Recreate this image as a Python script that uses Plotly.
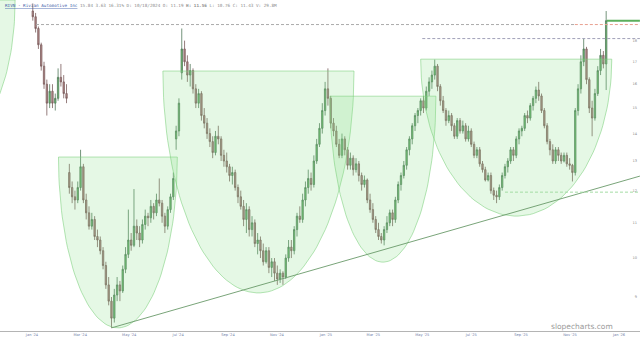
import numpy as np
import pandas as pd
import plotly.graph_objects as go

# ---------------- data ----------------
START = "2024-01-02"
OPEN = [
19.5, 19.2, 18.6, 17.8, 16.8, 16.0, 15.2, 15.7, 15.2, 15.4,
16.3, 16.1, 15.6, 12.6, 12.1, 11.8, 11.7, 12.1, 12.8, 11.7,
11.3, 10.9, 11.1, 10.6, 10.5, 10.2, 9.8, 9.3, 8.9, 8.5,
9.05, 9.3, 9.15, 9.7, 10.1, 10.5, 10.35, 10.9, 10.7, 10.5,
10.95, 11.2, 11.15, 11.5, 11.3, 11.7, 11.6, 11.2, 10.9, 11.4,
11.8, 13.8, 14.1, 16.5, 17.6, 17.0, 16.4, 16.6, 15.8, 15.2,
15.6, 14.7, 14.4, 14.0, 13.7, 13.3, 13.9, 13.8, 13.2, 13.0,
12.8, 12.5, 12.6, 12.1, 11.8, 11.5, 11.1, 11.4, 10.8, 11.0,
10.4, 10.5, 10.2, 9.9, 10.2, 9.75, 9.9, 9.6, 9.45, 9.6,
9.5, 10.0, 10.3, 10.2, 10.8, 11.2, 11.1, 11.7, 12.1, 12.4,
12.2, 13.0, 13.6, 14.2, 14.9, 15.8, 15.4, 14.4, 14.1, 13.6,
13.2, 13.8, 13.4, 12.85, 13.1, 12.7, 12.9, 12.5, 12.2, 12.35,
11.7, 11.4, 11.1, 10.8, 10.6, 10.5, 10.8, 11.0, 11.3, 11.1,
11.7, 12.2, 12.5, 12.85, 13.4, 13.8, 14.3, 14.7, 14.9, 15.3,
15.0, 15.7, 16.1, 16.4, 16.8, 15.9, 15.3, 14.9, 14.5, 14.7,
14.3, 13.9, 14.5, 14.1, 14.3, 13.8, 14.1, 13.6, 13.2, 13.4,
12.9, 12.7, 12.35, 12.5, 12.0, 11.85, 11.8, 12.1, 12.5, 12.8,
13.0, 13.4, 13.2, 13.8, 14.1, 14.2, 14.7, 14.6, 15.1, 15.4,
15.75, 15.5, 14.9, 14.3, 13.7, 13.4, 13.0, 13.4, 13.2, 13.0,
13.2, 12.9, 12.85, 12.6, 14.9, 15.8, 17.0, 17.6, 16.2, 15.0,
14.6, 15.6, 16.6, 17.3, 16.9]
HIGH = [
19.9, 19.4, 18.7, 17.9, 17.0, 16.2, 16.0, 16.0, 15.6, 16.7,
16.9, 16.4, 16.0, 12.9, 12.3, 12.0, 12.3, 13.4, 12.9, 11.9,
11.5, 11.3, 11.2, 10.8, 10.6, 10.3, 9.9, 9.5, 9.0, 9.2,
9.5, 9.4, 9.8, 10.3, 11.4, 10.7, 12.05, 11.1, 10.9, 11.1,
11.4, 11.3, 11.7, 11.6, 11.9, 12.4, 11.7, 11.3, 11.5, 11.9,
12.6, 14.3, 15.4, 18.6, 18.0, 17.3, 16.9, 16.7, 16.0, 15.8,
15.7, 15.0, 14.6, 14.2, 13.9, 14.1, 14.3, 13.9, 13.4, 13.3,
12.9, 12.8, 12.7, 12.2, 12.0, 11.7, 11.6, 11.5, 11.2, 11.1,
10.7, 10.6, 10.4, 10.3, 10.3, 10.0, 10.0, 9.8, 9.7, 9.65,
10.1, 10.5, 10.5, 10.9, 11.3, 11.5, 11.9, 12.3, 12.7, 12.6,
13.2, 13.8, 14.4, 15.2, 16.1, 16.7, 15.5, 14.6, 14.3, 13.8,
14.0, 13.9, 13.5, 13.3, 13.2, 13.1, 13.0, 12.6, 12.5, 12.4,
11.9, 11.6, 11.2, 11.0, 10.7, 10.9, 11.2, 11.4, 11.4, 11.8,
12.3, 12.6, 13.0, 13.5, 13.9, 14.4, 14.8, 15.0, 15.4, 15.5,
15.9, 16.3, 16.6, 17.1, 16.9, 16.0, 15.5, 15.0, 14.9, 14.8,
14.4, 14.6, 14.6, 14.5, 14.4, 14.3, 14.2, 13.7, 13.5, 13.5,
13.0, 12.8, 12.6, 12.6, 12.1, 12.0, 12.2, 12.6, 12.9, 13.1,
13.5, 13.5, 13.9, 14.2, 14.3, 14.8, 14.9, 15.2, 15.5, 15.9,
16.1, 15.6, 15.0, 14.4, 13.8, 13.6, 13.5, 13.5, 13.3, 13.3,
13.3, 13.1, 12.9, 15.0, 16.0, 17.3, 18.1, 17.7, 16.3, 15.3,
15.8, 16.8, 17.6, 17.5, 19.5]
LOW = [
19.0, 18.4, 17.6, 16.6, 15.8, 14.7, 15.0, 15.0, 14.9, 15.3,
15.9, 15.4, 15.2, 11.9, 11.6, 11.4, 11.6, 12.0, 11.6, 11.1,
10.8, 10.8, 10.5, 10.3, 10.1, 9.7, 9.2, 8.8, 8.28, 8.4,
8.9, 8.9, 9.1, 9.6, 10.0, 10.2, 10.3, 10.5, 10.3, 10.4,
10.8, 10.9, 11.0, 11.1, 11.2, 11.5, 11.0, 10.7, 10.8, 11.3,
11.7, 13.4, 13.9, 16.2, 16.8, 16.1, 15.9, 15.6, 15.0, 15.0,
14.5, 14.2, 13.8, 13.5, 13.1, 13.2, 13.6, 13.0, 12.8, 12.6,
12.3, 12.2, 12.0, 11.6, 11.4, 10.9, 10.7, 10.6, 10.6, 10.3,
10.1, 10.0, 9.8, 9.85, 9.6, 9.5, 9.4, 9.3, 9.35, 9.3,
9.45, 9.9, 10.0, 10.1, 10.6, 11.0, 11.0, 11.5, 11.9, 12.0,
12.1, 12.9, 13.5, 14.0, 14.7, 15.1, 14.2, 13.9, 13.5, 13.1,
13.1, 13.2, 12.7, 12.7, 12.5, 12.6, 12.3, 12.0, 12.1, 11.6,
11.3, 11.0, 10.7, 10.5, 10.4, 10.35, 10.7, 10.9, 10.9, 11.0,
11.6, 12.0, 12.4, 12.7, 13.2, 13.6, 14.1, 14.4, 14.7, 14.8,
14.9, 15.5, 15.8, 16.2, 15.7, 15.1, 14.8, 14.3, 14.4, 14.1,
13.8, 13.8, 14.0, 14.0, 13.7, 13.7, 13.5, 13.1, 13.1, 12.8,
12.6, 12.3, 12.3, 11.9, 11.7, 11.6, 11.7, 12.0, 12.4, 12.6,
12.9, 13.0, 13.1, 13.6, 13.9, 14.1, 14.4, 14.5, 14.9, 15.2,
15.3, 14.8, 14.2, 13.6, 13.2, 12.9, 12.9, 13.0, 12.9, 12.95,
12.8, 12.7, 12.3, 12.5, 14.7, 15.6, 16.8, 16.0, 14.8, 13.9,
14.5, 15.5, 16.4, 16.7, 15.75]
CLOSE = [
19.2, 18.6, 17.8, 16.8, 16.0, 15.2, 15.7, 15.2, 15.4, 16.3,
16.1, 15.6, 15.4, 12.1, 11.8, 11.7, 12.1, 12.8, 11.7, 11.3,
10.9, 11.1, 10.6, 10.5, 10.2, 9.8, 9.3, 8.9, 8.5, 9.05,
9.3, 9.15, 9.7, 10.1, 10.5, 10.35, 10.9, 10.7, 10.5, 10.95,
11.2, 11.15, 11.5, 11.3, 11.7, 11.6, 11.2, 10.9, 11.4, 11.8,
12.4, 14.1, 15.2, 17.6, 17.0, 16.4, 16.6, 15.8, 15.2, 15.6,
14.7, 14.4, 14.0, 13.7, 13.3, 13.9, 13.8, 13.2, 13.0, 12.8,
12.5, 12.6, 12.1, 11.8, 11.5, 11.1, 11.4, 10.8, 11.0, 10.4,
10.5, 10.2, 9.9, 10.2, 9.75, 9.9, 9.6, 9.45, 9.6, 9.5,
10.0, 10.3, 10.2, 10.8, 11.2, 11.1, 11.7, 12.1, 12.4, 12.2,
13.0, 13.6, 14.2, 14.9, 15.8, 15.4, 14.4, 14.1, 13.6, 13.2,
13.8, 13.4, 12.85, 13.1, 12.7, 12.9, 12.5, 12.2, 12.35, 11.7,
11.4, 11.1, 10.8, 10.6, 10.5, 10.8, 11.0, 11.3, 11.1, 11.7,
12.2, 12.5, 12.85, 13.4, 13.8, 14.3, 14.7, 14.9, 15.3, 15.0,
15.7, 16.1, 16.4, 16.8, 15.9, 15.3, 14.9, 14.5, 14.7, 14.3,
13.9, 14.5, 14.1, 14.3, 13.8, 14.1, 13.6, 13.2, 13.4, 12.9,
12.7, 12.35, 12.5, 12.0, 11.85, 11.8, 12.1, 12.5, 12.8, 13.0,
13.4, 13.2, 13.8, 14.1, 14.2, 14.7, 14.6, 15.1, 15.4, 15.75,
15.5, 14.9, 14.3, 13.7, 13.4, 13.0, 13.4, 13.2, 13.0, 13.2,
12.9, 12.85, 12.6, 14.9, 15.8, 17.0, 17.6, 16.2, 15.0, 14.6,
15.6, 16.6, 17.3, 16.9, 19.0]

# rounded-bottom (cup) drawings: left date, right date, rim price, bottom price
BOWL_LEFT = ["2023-07-27", "2024-02-03", "2024-06-12", "2025-01-06", "2025-04-29"]
BOWL_RIGHT = ["2023-12-11", "2024-06-30", "2025-02-05", "2025-05-18", "2025-12-23"]
BOWL_TOP = [20.09, 13.14, 16.58, 15.49, 17.12]
BOWL_BOTTOM = [13.93, 8.28, 9.10, 9.89, 11.20]

# trend line
TREND_DATES = ["2024-04-09", "2026-01-27"]
TREND_PRICES = [8.28, 12.48]

# horizontal level lines
X_END = "2026-01-27"
LEVEL_PRICE = [18.8, 18.8, 18.1, 11.95, 19.0]
LEVEL_START = ["2024-01-06", "2025-11-07", "2025-05-01", "2025-08-12", "2025-12-17"]
LEVEL_END = ["2025-11-07", X_END, X_END, X_END, X_END]
LEVEL_COLOR = ["#ababab", "#e8a090", "#a0a0b8", "#a4dca4", "#5cae5c"]
LEVEL_DASH = ["3px,2px", "3px,2px", "3px,2px", "3px,2px", "solid"]
LEVEL_WIDTH = [1, 1, 1, 1, 2]

Y_TICKS = [9, 10, 11, 12, 13, 14, 15, 16, 17, 18]

# ---------------- figure ----------------
dates = pd.date_range(START, periods=len(CLOSE), freq="84h")
fig = go.Figure()

theta = np.linspace(0, np.pi, 80)
for l, r, t, b in zip(BOWL_LEFT, BOWL_RIGHT, BOWL_TOP, BOWL_BOTTOM):
    l = pd.Timestamp(l)
    r = pd.Timestamp(r)
    half = (r - l) / 2
    c = l + half
    lt, lb = np.log10(t), np.log10(b)
    xs = [c + half * float(np.cos(th)) for th in theta] + [r]
    ys = [10 ** (lt - (lt - lb) * np.sin(th)) for th in theta] + [t]
    fig.add_trace(go.Scatter(x=xs, y=ys, mode="lines", fill="toself",
                             fillcolor="rgba(135,225,135,0.22)",
                             line=dict(color="rgba(120,205,120,0.55)", width=1),
                             hoverinfo="skip", showlegend=False))

fig.add_trace(go.Scatter(x=TREND_DATES, y=TREND_PRICES, mode="lines",
                         line=dict(color="#6a9a6a", width=0.9),
                         hoverinfo="skip", showlegend=False))

for p, s, e, col, d, w in zip(LEVEL_PRICE, LEVEL_START, LEVEL_END, LEVEL_COLOR, LEVEL_DASH, LEVEL_WIDTH):
    fig.add_trace(go.Scatter(x=[s, e], y=[p, p], mode="lines",
                             line=dict(color=col, width=w, dash=d),
                             hoverinfo="skip", showlegend=False))

fig.add_trace(go.Candlestick(
    x=dates, open=OPEN, high=HIGH, low=LOW, close=CLOSE,
    increasing=dict(fillcolor="#6cc46c", line=dict(color="#52785a", width=0.8)),
    decreasing=dict(fillcolor="#b88c8c", line=dict(color="#7a5c5c", width=0.8)),
    whiskerwidth=0, showlegend=False))

header = ('<span style="color:#3a5aa8"><u>RIVN - Rivian Automotive Inc</u></span> '
          '<span style="color:#8c8c8c">15.84 3.63 16.31% D: 10/18/2024 O: 11.19 '
          '<b>H: 11.56</b> L: 10.76 C: 11.43 V: 29.8M</span>')
fig.add_annotation(text=header, xref="paper", yref="paper", x=0.004, y=1,
                   xanchor="left", yanchor="top", yshift=-1, showarrow=False,
                   font=dict(family="DejaVu Sans Mono", size=4.3))
fig.add_annotation(text="slopecharts.com", xref="paper", yref="paper",
                   x=0.91, y=0.015, xanchor="center", yanchor="middle",
                   showarrow=False,
                   font=dict(family="DejaVu Sans", size=7.5, color="#9a9a9a"))

fig.update_layout(
    width=640, height=342,
    margin=dict(l=0, r=0, t=0, b=11),
    paper_bgcolor="white", plot_bgcolor="white",
    showlegend=False,
    xaxis=dict(type="date", range=["2023-11-22 04:00", "2026-01-27 03:00"],
               rangeslider=dict(visible=False),
               showgrid=False, zeroline=False,
               showline=True, linecolor="#b4b4b4", linewidth=1,
               tick0="2024-01-01", dtick="M2", tickformat="%b '%y",
               ticks="", tickfont=dict(family="DejaVu Sans", size=3.6, color="#7080a8")),
    yaxis=dict(type="log", range=[np.log10(8.21), np.log10(20.09)],
               side="right", ticklabelposition="inside",
               tickvals=Y_TICKS, ticktext=[str(v) for v in Y_TICKS],
               showgrid=False, zeroline=False, showline=False, ticks="",
               tickfont=dict(family="DejaVu Sans", size=3.6, color="#8a8a8a")),
)

fig.write_html("out.html", config={"displayModeBar": False})
